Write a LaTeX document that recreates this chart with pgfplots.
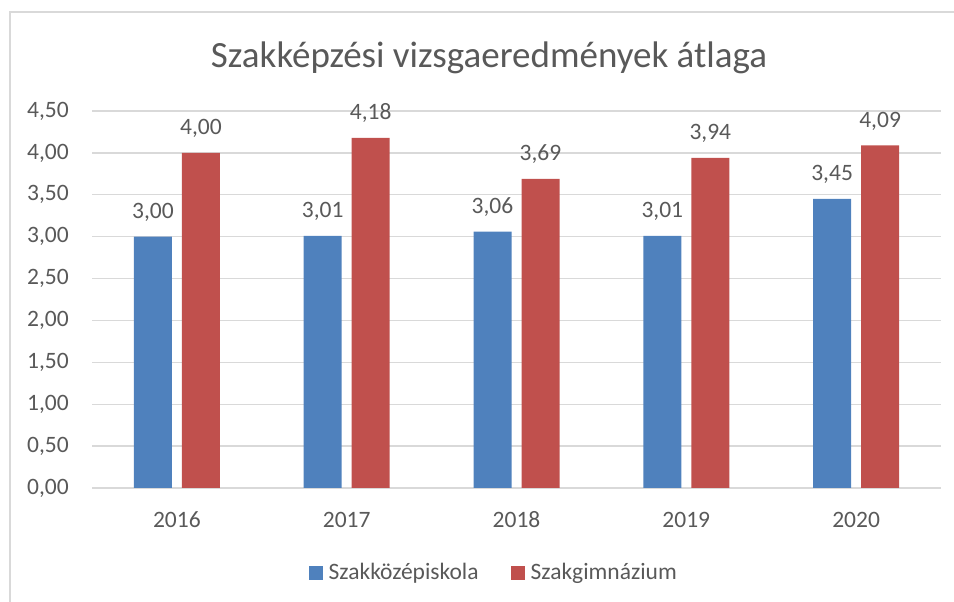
\documentclass[border=0pt]{standalone}
\usepackage{fontspec}
\setmainfont{Carlito}
\usepackage{pgfplots}
\pgfplotsset{compat=1.18}
\definecolor{barblue}{HTML}{4F81BD}
\definecolor{barred}{HTML}{C0504D}
\definecolor{txtgray}{HTML}{595959}
\definecolor{gridgray}{HTML}{D9D9D9}
\begin{document}
\begin{tikzpicture}
\useasboundingbox (0,0) rectangle (954bp,602bp);
\draw[gridgray, line width=1.5bp] (10bp,-2bp) -- (10bp,590bp) -- (956bp,590bp);
\node[anchor=base, text=txtgray, font=\fontsize{37bp}{44bp}\selectfont, inner sep=0pt] at (489bp,534bp) {Szakképzési vizsgaeredmények átlaga};
\begin{axis}[
  at={(92bp,114bp)}, anchor=south west,
  scale only axis, width=849bp, height=377bp,
  ybar=10bp, bar width=38bp,
  xmin=-0.5, xmax=4.5, ymin=0, ymax=4.5,
  xtick={0,1,2,3,4}, xticklabels={2016,2017,2018,2019,2020},
  ytick={0,0.5,...,4.5},
  axis line style={draw=none}, major tick length=0pt,
  ymajorgrids, grid style={gridgray, line width=1.3bp},
  /pgf/number format/.cd, use comma, fixed, fixed zerofill, precision=2, assume math mode=true,
  /pgfplots/.cd,
  tick label style={text=txtgray, font=\fontsize{23.5bp}{28bp}\selectfont, inner sep=0pt},
  yticklabel style={anchor=east, xshift=-23bp},
  xticklabel style={anchor=base, yshift=-39bp},
  nodes near coords,
  every node near coord/.append style={text=txtgray, font=\fontsize{23.5bp}{28bp}\selectfont, inner sep=0pt, anchor=base, yshift=18bp},
  legend columns=2,
  legend style={at={(0.472,0)}, anchor=center, yshift=-84.5bp, draw=none, fill=none,
    font=\fontsize{23.5bp}{28bp}\selectfont, text=txtgray,
    nodes={inner sep=0pt}, column sep=6bp,
    /tikz/every even column/.append style={column sep=32bp}},
]
\addplot[fill=barblue, draw=none, legend image code/.code={\fill[barblue] (0bp,-7bp) rectangle (14bp,7bp);}] coordinates {(0,3.00) (1,3.01) (2,3.06) (3,3.01) (4,3.45)};
\addplot[fill=barred, draw=none, legend image code/.code={\fill[barred] (0bp,-7bp) rectangle (14bp,7bp);}] coordinates {(0,4.00) (1,4.18) (2,3.69) (3,3.94) (4,4.09)};
\legend{Szakközépiskola, Szakgimnázium}
\end{axis}
\end{tikzpicture}
\end{document}
